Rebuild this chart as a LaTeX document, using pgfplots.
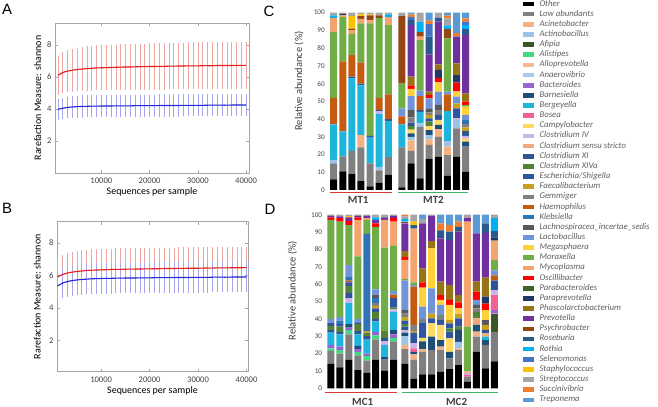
\documentclass[border=0pt]{standalone}
\usepackage{pgfplots}
\pgfplotsset{compat=1.18}
\usepackage{pgfplotstable}
\usepackage{fontspec}
\setmainfont{Carlito}
\newfontfamily\letterfont{Liberation Sans}

\definecolor{g0}{RGB}{0,0,0}
\definecolor{g1}{RGB}{127,127,127}
\definecolor{g2}{RGB}{244,177,131}
\definecolor{g3}{RGB}{157,195,230}
\definecolor{g4}{RGB}{56,87,35}
\definecolor{g5}{RGB}{70,215,130}
\definecolor{g6}{RGB}{248,185,145}
\definecolor{g7}{RGB}{170,200,235}
\definecolor{g8}{RGB}{150,100,210}
\definecolor{g9}{RGB}{31,78,121}
\definecolor{g10}{RGB}{30,180,220}
\definecolor{g11}{RGB}{245,95,150}
\definecolor{g12}{RGB}{255,217,102}
\definecolor{g13}{RGB}{205,180,230}
\definecolor{g14}{RGB}{240,170,125}
\definecolor{g15}{RGB}{47,85,151}
\definecolor{g16}{RGB}{84,130,53}
\definecolor{g17}{RGB}{47,85,160}
\definecolor{g18}{RGB}{200,160,30}
\definecolor{g19}{RGB}{128,128,128}
\definecolor{g20}{RGB}{197,90,17}
\definecolor{g21}{RGB}{46,117,182}
\definecolor{g22}{RGB}{89,89,89}
\definecolor{g23}{RGB}{112,148,215}
\definecolor{g24}{RGB}{255,210,60}
\definecolor{g25}{RGB}{112,173,71}
\definecolor{g26}{RGB}{244,164,110}
\definecolor{g27}{RGB}{255,0,0}
\definecolor{g28}{RGB}{65,100,40}
\definecolor{g29}{RGB}{31,56,100}
\definecolor{g30}{RGB}{150,115,20}
\definecolor{g31}{RGB}{112,48,160}
\definecolor{g32}{RGB}{150,70,20}
\definecolor{g33}{RGB}{40,90,140}
\definecolor{g34}{RGB}{0,176,240}
\definecolor{g35}{RGB}{68,114,196}
\definecolor{g36}{RGB}{255,192,0}
\definecolor{g37}{RGB}{165,165,165}
\definecolor{g38}{RGB}{237,125,49}
\definecolor{g39}{RGB}{91,155,213}
\definecolor{lred}{RGB}{242,165,165}
\definecolor{lblue}{RGB}{165,165,242}
\definecolor{mred}{RGB}{232,30,30}
\definecolor{mblue}{RGB}{40,40,215}
\definecolor{txt}{RGB}{64,64,64}
\definecolor{legtxt}{RGB}{95,95,95}
\definecolor{frm}{RGB}{165,165,165}
\definecolor{grpred}{RGB}{220,55,55}
\definecolor{grpgreen}{RGB}{60,180,100}

% rarefaction curves: x, A red (y,err), A blue, B red, B blue
\pgfplotstableread{
x ar ae ab abe br bre bb bbe
1000 6.10 1.13 3.98 0.55 5.90 1.05 5.35 0.80
2000 6.28 1.18 4.05 0.57 6.05 1.10 5.52 0.82
3000 6.37 1.21 4.10 0.58 6.14 1.13 5.62 0.83
4000 6.43 1.24 4.13 0.59 6.20 1.15 5.68 0.83
5000 6.47 1.26 4.15 0.59 6.24 1.16 5.72 0.84
6000 6.50 1.28 4.16 0.60 6.27 1.17 5.75 0.84
7000 6.53 1.29 4.17 0.60 6.30 1.18 5.77 0.84
8000 6.55 1.30 4.18 0.60 6.32 1.18 5.79 0.84
9000 6.57 1.31 4.18 0.60 6.33 1.19 5.80 0.84
10000 6.58 1.32 4.19 0.60 6.34 1.19 5.81 0.84
11000 6.59 1.32 4.19 0.60 6.35 1.19 5.82 0.84
12000 6.60 1.33 4.19 0.60 6.36 1.19 5.82 0.84
13000 6.61 1.33 4.20 0.60 6.37 1.19 5.83 0.84
14000 6.62 1.33 4.20 0.60 6.37 1.19 5.83 0.84
15000 6.63 1.34 4.20 0.60 6.38 1.19 5.84 0.84
16000 6.63 1.34 4.20 0.60 6.38 1.19 5.84 0.84
17000 6.64 1.34 4.21 0.60 6.39 1.19 5.84 0.84
18000 6.65 1.35 4.21 0.60 6.39 1.19 5.85 0.84
19000 6.65 1.35 4.21 0.60 6.40 1.19 5.85 0.84
20000 6.66 1.35 4.21 0.60 6.40 1.19 5.85 0.84
21000 6.66 1.35 4.21 0.60 6.41 1.19 5.86 0.84
22000 6.67 1.36 4.22 0.60 6.41 1.19 5.86 0.84
23000 6.67 1.36 4.22 0.60 6.42 1.19 5.86 0.84
24000 6.68 1.36 4.22 0.60 6.42 1.19 5.86 0.84
25000 6.68 1.36 4.22 0.60 6.42 1.19 5.87 0.84
26000 6.69 1.36 4.22 0.60 6.43 1.19 5.87 0.84
27000 6.69 1.36 4.23 0.60 6.43 1.19 5.87 0.84
28000 6.70 1.37 4.23 0.60 6.44 1.19 5.87 0.84
29000 6.70 1.37 4.23 0.60 6.44 1.19 5.88 0.84
30000 6.70 1.37 4.23 0.60 6.44 1.19 5.88 0.84
31000 6.71 1.37 4.23 0.60 6.45 1.19 5.88 0.84
32000 6.71 1.37 4.24 0.60 6.45 1.19 5.88 0.84
33000 6.71 1.37 4.24 0.60 6.45 1.19 5.89 0.84
34000 6.72 1.37 4.24 0.60 6.46 1.19 5.89 0.84
35000 6.72 1.38 4.24 0.60 6.46 1.19 5.89 0.84
36000 6.72 1.38 4.24 0.60 6.46 1.19 5.89 0.84
37000 6.72 1.38 4.25 0.60 6.47 1.19 5.90 0.84
38000 6.73 1.38 4.25 0.60 6.47 1.19 5.90 0.84
39000 6.73 1.38 4.25 0.60 6.47 1.19 5.90 0.84
40000 6.73 1.38 4.25 0.60 6.48 1.19 5.90 0.84
}\Rare

% Panel C: one row per bar, columns c0..c39 in legend order
\pgfplotstableread{
x c0 c1 c2 c3 c4 c5 c6 c7 c8 c9 c10 c11 c12 c13 c14 c15 c16 c17 c18 c19 c20 c21 c22 c23 c24 c25 c26 c27 c28 c29 c30 c31 c32 c33 c34 c35 c36 c37 c38 c39
0    6 9 0 2 0 0 0 0 0 0   20 0 0 0 0 0 0 0 0 0   15 0 0 0 0 37 8 0 0 0   0 0 0 0 1.5 0 0 1.5 0 0
1    10.5 8.5 0 0 0 0 0 0 0 0   14 0 0 0 0 0 0 0 0 0   39.5 0 0 0 0 25 1 0 0 0.8   0 0 0 0 0 0 0 0.7 0 0
2    9 13 0 0 0 0 0 0 0 0   41 0 0 0 0 0 0 1 0 0   12 0 0 0 0 12 2 0 0 0   0 0 1 0 0 0 7 2 0 0
3    5 19 7 0 0 0 0 0 0 0   28 0 0 0 0 0 0 1 0 0   12 0 0 0 0 22 2.5 0 0 0   0 0 1.5 0 0 0 1 1 0 0
4    2 13 0 0 0 0 0 0 0 0   14.5 0 0 0 0 0 0 1 0 0   0 0 0 0 0 63.5 2 0 0 0   0 0 2.5 0 0 0 0.5 1 0 0
5    4 7 0 2 0 0 0 0 0 0   30 0 0 1.5 0 0 0 0.5 0 0   7 0 0 0 0 45 0 0 0 0   0 0 1.5 0 0 0 0 1.5 0 0
6    8.5 10 0 0 0 0 0 0 0 0   20.5 0 0 0 0 0 0 1 0 0   14 0 0 0 0 39 4.5 0 0 0   0 0 0 0 1.5 0 0 1 0 0
7.5  1.5 22.5 0 0 0 0 0 0 0 0   13 0 0 0 0 0 0 0 0 0   4.5 0 0 4.5 0 14 0 0 0 0   0 0 38 0 0 0 0 2 0 0
8.5  15 7 6 2 0 0 0 0 0 2   0 0 2 0 0 0 2 2 0 3   0 0 4 8 4 0 0 2 0 0   5 29 0 3 0 1.5 0 0 1.5 1
9.5  6.6 29 0 2 0 0 0 0 0 0   6.4 0 0 0 0 0 0 1 0 0   8 0 0 3 0 28.6 1.9 0 0 0   0 0 2.5 0 6 0 0 5 0 0
10.5 17.5 8 3 2.5 0 0 0 0 0 2.8   0 0 2.2 0 0 0 2.5 1.9 1.9 1.5   0 0 1.9 6 0 0 0 1.9 0 0   1.9 21 0 10 0 7 0 0 2 4.5
11.5 18.8 11.2 4.4 0 0 0 0 0 0 2.3   0 0 2.8 0 0 0 0 2.8 0 2.7   0 0 3 7.5 5.2 0 0 2.6 0 4.4   3.2 24.1 0 2.2 0 0 0 2.8 0 0
12.5 8 11.7 4.7 3.2 0 0 0 0 0 0   16.9 0 0 0 0 0 0 0 0 0   9.5 0 0 1.5 0 30 0 0 0 0   0 0 5.3 0 2 0 0 4 1.6 1.6
13.5 18.8 16 0 4.7 0 0 0 0 0 0   0 0 0 0.9 0 0 0 5.6 2.9 0   0 0 0 3.7 3 0 0 5 0 4.2   6.6 15.1 0 0 0 0 0 0 2 11.5
14.5 10.3 14.1 0 0 0 0 0 0 0 2.9   0 0 1.7 1.5 0 2.5 0 0 2.3 1.8   0 2.4 0 2.8 4.7 1 0 1.8 0 0   4.7 32.9 0 3.4 2.2 2 0 0 1.8 3.2
}\Ctab

% Panel D
\pgfplotstableread{
x c0 c1 c2 c3 c4 c5 c6 c7 c8 c9 c10 c11 c12 c13 c14 c15 c16 c17 c18 c19 c20 c21 c22 c23 c24 c25 c26 c27 c28 c29 c30 c31 c32 c33 c34 c35 c36 c37 c38 c39
0     14 7.5 0 0 0 1.5 0 0 2 0   7 0 0 0 0 1.5 2.5 1.5 0 0   0 0 0 2.5 0 57 0 1.5 0 0   0 0.8 0 0 0 0 0 0.7 0 0
1     12 8 0 0 0 2 0 0 2 0   7 0 0 0 0 1.5 3 1.5 0 0   0 2 0 2 0 55 0 2 0 0   0 1 0 0 0 0 0 1 0 0
2     16.5 14.5 0 0 0 2.5 0 0 1.5 2   12 0 0 3 0 3 4 2 0 0   1 2 0 7 0 23 0 2.5 0 0   0 2 0 0 0 0 0.8 0.7 0 0
3     10.5 8.5 0 0 0 2 0 0 1.5 2   6.5 0 0 0 0 2 4 1 0 0   0 0 0 2 0 36 21 1.5 0 0   0 0.8 0 0 0 0 0 0.7 0 0
4     9 7 0 0 0 2.5 0 0 1.5 0   8 0 0 0 0 2 2 0 1 0   0 56 0 0 0 8 1 0 0 0   0 1.5 0 0 0 0 0 0.5 0 0
5     16.5 11.5 0 0 0 2.5 0 0 2 0   6 0 0 0 0 1.5 4 2 1.5 1.5   0 3 2 3 0 36 0 2 0 0   0 2 0 0 1.5 0 0 1.5 0 0
6     10 6.5 0 0 0 0 0 0 0 1.5   7 0 0 2 0 2 4 0 0 0   0 0 0 0 0 48 16 0 0 0   0 1.5 0 0 0 0 0 1.5 0 0
7     16.5 10.5 0 0 0 2 0 0 2 2.5   10.5 0 0 1.5 0 0 1 5.5 0 0   2 0 0 2 0 26 14 2 0 0   0 1.3 0 0 0 0 0 0.7 0 0
8.25  14 8.5 2.5 5 0 0 0 0 0 2   0 0 0 1.5 0 2 1.5 2 2 2   0 0 2 17 0 1 11 1.5 0 0   3.5 16 1 0 1.5 0 0 1.5 1 0
9.25  5.5 11 3 0 0 0 0 0 0 1.5   0 2 0 3 0 3 0 3 1 3.5   22 0 0 1 0 1.5 31 0 0 0   0 0 0 2 0 0 2 4 0 0
10.25 8 13 1.5 0 0 0 0 0 0 4.5   0 0 2 0 0 0 0 9 0 2   0 0 0 7 11 0 0 3 0 0   8 26 0 0 0 0 0 2.5 0 2.5
11.25 8 14 0 0 0 0 0 0 0 7.7   0 0 7.7 0 0 0 0 2.9 2.7 0   0 0 0 14.6 23 0 0 0 0 0   4.2 14.7 0 0 0 0 0 0.5 0 0
12.25 9.6 12.4 2 0 0 0 0 0 0 3.8   0 0 8.7 0 0 0 0 2.9 0 2.8   0 0 0 5.8 2.9 0 0 2.8 0 0   7.7 25 0 4.6 0 0 0 0 4 5
13.25 11 6.3 0 0 0 0 0 0 0 3.7   0 0 7.8 0 0 3.8 1.9 2.9 1.9 0   0 0 0 0 8.7 0 0 2.9 0 0   8.6 25.9 0 4.8 0 0 0 0 3.8 6
14.25 13.4 8.6 1 3.8 0 0 0 0 0 6.8   0 0 0 0 0 0 1.9 4.8 2.7 0   0 0 0 0 3 0 0 3.5 0 0   4.2 36.5 0 2.8 0 0 0 0 3 4
15.25 3.8 2.9 0 0 0 0 0 0 0 0   0 1 0 1 1 0 0 0 0 0   0 0 0 0 0 25.8 60.5 0 0 0   0 2 0 0 0 0 0 2 0 0
16.25 21 8.8 2.8 0 0 0 0 0 0 3.9   0 0 0 0 3.8 0 3.7 0 0 2   0 0 2 3 0 0 0 4.7 0 0   5.7 27.9 0 0 0 0 0 0 0 10.7
17.25 11.5 13.5 0 0 0 0 0 0 0 2.8   2 0 0 0 1.9 1.9 0 0 2.9 0   0 0 2.8 0 5.7 0 0 3.8 0 4   11 25.7 0 5.5 0 0 0 0 0 5
18.25 15.5 17 0 0 10.5 0 0 0 2 0   0 8.7 0 2.9 0 2.9 0 2.5 0 0   3 0 0 3 0 6 11 0 0 2   0 0 0 3.6 7.4 0 0 2 0 0
}\Dtab

\pgfplotsset{
  rare/.style={
    scale only axis, anchor=south west,
    ytick={2,4,6,8},
    xtick={10000,20000,30000,40000},
    scaled x ticks=false,
    /pgf/number format/1000 sep={},
    /pgf/number format/assume math mode=true,
    tick align=inside, major tick length=3bp,
    tick style={frm, line width=0.5bp},
    axis line style={frm, line width=0.6bp},
    ticklabel style={font=\fontsize{8.6}{9}\selectfont, text=txt},
    xticklabel style={yshift=-1.5bp},
    label style={font=\fontsize{10.8}{12}\selectfont, text=txt},
    xlabel={Sequences per sample},
    ylabel={Rarefaction Measure: shannon},
  },
  ebar/.style={#1, line width=0.5bp, error bars/.cd, y dir=both, y explicit,
    error bar style={#1, line width=0.55bp},
    error mark options={#1, mark size=1.5bp, line width=0.55bp}},
  stk/.style={
    scale only axis, anchor=south west,
    ymin=0, ymax=100,
    ybar stacked,
    axis line style={draw=none},
    major tick length=0pt,
    xtick=\empty, ytick={0,10,...,100},
    ticklabel style={font=\fontsize{7.2}{8}\selectfont, text=txt},
    /pgf/number format/assume math mode=true,
    clip=false,
  },
}

\begin{document}
\begin{tikzpicture}
\useasboundingbox (0bp,0bp) rectangle (658bp,407bp);

% ---------- Panel A ----------
\begin{axis}[rare, at={(55bp,234bp)}, width=194bp, height=150bp,
  xmin=400, xmax=40600, ymin=0, ymax=9.38,
  every axis x label/.style={at={(axis description cs:0.5,-0.125)}, anchor=center},
  every axis y label/.style={at={(axis description cs:-0.089,0.5)}, anchor=center, rotate=90},
]
\addplot[ebar=lred] table[x=x, y=ar, y error=ae]{\Rare};
\addplot[ebar=lblue] table[x=x, y=ab, y error=abe]{\Rare};
\addplot[mred, line width=1.1bp, no marks, smooth] table[x=x, y=ar]{\Rare};
\addplot[mblue, line width=1.1bp, no marks, smooth] table[x=x, y=ab]{\Rare};
\end{axis}

% ---------- Panel B ----------
\begin{axis}[rare, at={(57bp,35.3bp)}, width=191bp, height=150bp,
  xmin=900, xmax=40300, ymin=0.1, ymax=9.29,
  every axis x label/.style={at={(axis description cs:0.5,-0.127)}, anchor=center},
  every axis y label/.style={at={(axis description cs:-0.103,0.5)}, anchor=center, rotate=90},
]
\addplot[ebar=lred] table[x=x, y=br, y error=bre]{\Rare};
\addplot[ebar=lblue] table[x=x, y=bb, y error=bbe]{\Rare};
\addplot[mred, line width=1.1bp, no marks, smooth] table[x=x, y=br]{\Rare};
\addplot[mblue, line width=1.1bp, no marks, smooth] table[x=x, y=bb]{\Rare};
\end{axis}

% ---------- Panel C ----------
\begin{axis}[stk, at={(328.2bp,217bp)}, width=142.9bp, height=177.3bp,
  xmin=-0.6, xmax=15.1, bar width=0.77]
\pgfplotsinvokeforeach{0,...,39}{
  \addplot[fill=g#1, draw=none] table[x=x, y=c#1]{\Ctab};
}
\draw[grpred, line width=1.6bp] (axis cs:-0.41,-1.5) -- (axis cs:6.41,-1.5);
\draw[grpgreen, line width=1.6bp] (axis cs:7.07,-1.5) -- (axis cs:14.76,-1.5);
\node[font=\fontsize{11}{12}\selectfont\bfseries, text=txt] at (axis cs:2.7,-5.8) {MT1};
\node[font=\fontsize{11}{12}\selectfont\bfseries, text=txt] at (axis cs:10.97,-5.8) {MT2};
\end{axis}

% ---------- Panel D ----------
\begin{axis}[stk, at={(325.6bp,18.7bp)}, width=176.3bp, height=173.6bp,
  xmin=-0.6, xmax=19.1, bar width=0.78]
\pgfplotsinvokeforeach{0,...,39}{
  \addplot[fill=g#1, draw=none] table[x=x, y=c#1]{\Dtab};
}
\draw[grpred, line width=1.6bp] (axis cs:-0.67,-2.5) -- (axis cs:7.4,-2.5);
\draw[grpgreen, line width=1.6bp] (axis cs:7.93,-2.5) -- (axis cs:18.66,-2.5);
\node[font=\fontsize{11}{12}\selectfont\bfseries, text=txt] at (axis cs:3.54,-7.7) {MC1};
\node[font=\fontsize{11}{12}\selectfont\bfseries, text=txt] at (axis cs:14.04,-7.7) {MC2};
\end{axis}

% y labels of C and D
\node[rotate=90, font=\fontsize{10.5}{12}\selectfont, text=txt] at (299bp,326bp) {Relative abundance (\%)};
\node[rotate=90, font=\fontsize{10.5}{12}\selectfont, text=txt] at (292.5bp,116.3bp) {Relative abundance (\%)};

% panel letters
\node[font=\letterfont\fontsize{15}{16}\selectfont] at (7bp,398bp) {A};
\node[font=\letterfont\fontsize{15}{16}\selectfont] at (7bp,199bp) {B};
\node[font=\letterfont\fontsize{15}{16}\selectfont] at (269bp,396bp) {C};
\node[font=\letterfont\fontsize{15}{16}\selectfont] at (270bp,198bp) {D};

% ---------- Legend ----------
\begin{axis}[at={(523bp,407bp)}, anchor=north west, scale only axis, width=5bp, height=5bp,
  hide axis, xmin=0, xmax=1, ymin=0, ymax=1,
  legend cell align=left,
  legend image code/.code={\fill[#1] (0bp,-2.3bp) rectangle (11bp,2.3bp);},
  legend style={at={(0,1)}, anchor=north west, draw=none, fill=none,
    inner sep=0pt, outer sep=0pt,
    font=\fontsize{8.8}{9}\selectfont\itshape, text=legtxt,
    row sep=2.15bp, column sep=5.5bp,
    nodes={inner sep=0pt, text height=6bp, text depth=2bp}},
]
\pgfplotsinvokeforeach{0,...,39}{\addlegendimage{fill=g#1, draw=none}}
\legend{Other, Low abundants, Acinetobacter, Actinobacillus, Afipia, Alistipes,
  Alloprevotella, Anaerovibrio, Bacteroides, Barnesiella, Bergeyella, Bosea,
  Campylobacter, Clostridium IV, Clostridium sensu stricto, Clostridium XI,
  Clostridium XIVa, Escherichia/Shigella, Faecalibacterium, Gemmiger,
  Haemophilus, Klebsiella, Lachnospiracea\_incertae\_sedis, Lactobacillus,
  Megasphaera, Moraxella, Mycoplasma, Oscillibacter, Parabacteroides,
  Paraprevotella, Phascolarctobacterium, Prevotella, Psychrobacter, Roseburia,
  Rothia, Selenomonas, Staphylococcus, Streptococcus, Succinivibrio, Treponema}
\end{axis}
\end{tikzpicture}
\end{document}
